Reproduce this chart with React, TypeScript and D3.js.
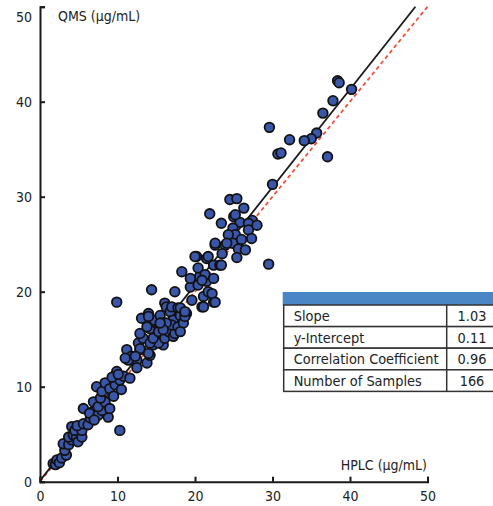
import { useEffect, useRef } from 'react';
import * as d3 from 'd3';

// HPLC (x) vs QMS (y), µg/mL
const hplc = [
  1.7, 2.0, 2.2, 2.5, 2.8, 3.4, 3.2, 3.0, 3.7, 4.1, 3.7, 4.3, 4.7, 4.9, 5.4, 4.1, 4.5, 5.4, 4.8, 5.6,
  6.2, 6.5, 5.6, 6.9, 6.4, 7.5, 7.0, 8.8, 8.6, 8.0, 6.9, 7.5, 8.4, 9.0, 7.8, 7.3, 8.0, 8.4, 9.0, 9.5,
  9.7, 10.3, 10.8, 9.9, 10.5, 11.6, 9.3, 10.1, 10.3,
  11.2, 11.8, 12.5, 11.4, 12.9, 12.7, 13.3, 13.8, 14.2, 14.8, 14.6, 15.9, 12.9, 14.2, 12.9, 12.3, 14.0,
  11.0, 15.3, 14.2, 13.1, 14.0, 14.8, 13.8, 14.6, 14.8, 14.4, 9.9, 15.5, 15.3, 15.9, 16.1, 16.6, 16.1,
  16.3, 16.8, 17.0, 17.2, 17.2, 17.4, 17.0, 17.8, 16.3, 15.9, 15.5, 14.0, 12.5,
  17.4, 17.8, 18.1, 18.9, 18.5, 18.1, 18.7, 18.1, 18.7, 18.3, 19.4, 20.4, 19.6, 21.1, 22.4, 20.9, 20.6,
  21.5, 21.7, 22.2, 22.6, 21.1, 20.2, 21.5, 22.6, 23.9, 20.4, 21.3, 20.9, 22.4, 23.2, 19.4, 21.9, 23.4,
  22.6, 23.4, 20.0, 21.7, 22.4,
  24.5, 25.4, 26.3, 25.0, 27.4, 25.8, 26.9, 24.9, 26.9, 25.2, 24.3, 27.3, 24.9, 24.1, 25.6, 26.5, 25.4,
  29.5, 30.0, 25.2, 28.0, 26.0, 23.5,
  38.4, 38.6, 40.2, 37.8, 36.5, 29.6, 35.7, 35.0, 34.1, 32.2, 30.7, 37.1, 31.1,
];
const qms = [
  1.9, 1.8, 2.3, 2.0, 2.5, 2.8, 3.3, 4.0, 3.9, 4.4, 4.7, 4.9, 4.7, 4.2, 4.7, 5.8, 5.4, 5.4, 5.9, 6.1,
  6.0, 6.7, 7.7, 7.4, 7.2, 7.0, 6.5, 6.8, 7.7, 7.5, 8.4, 7.9, 8.4, 7.7, 8.8, 10.0, 9.5, 10.4, 9.8, 9.0,
  10.2, 10.7, 11.1, 11.6, 9.7, 10.9, 11.0, 11.3, 5.4,
  13.9, 13.2, 12.8, 12.8, 13.9, 14.6, 15.1, 12.5, 13.3, 15.3, 14.4, 14.4, 15.6, 16.1, 14.0, 13.2, 13.5,
  13.0, 14.6, 14.6, 17.2, 17.7, 16.8, 16.3, 15.1, 17.0, 20.2, 18.9, 17.5, 15.8, 16.7, 15.1, 15.8, 18.8,
  18.4, 17.9, 18.4, 17.0, 15.3, 15.6, 16.5, 16.3, 16.7, 16.0, 16.7, 17.4, 12.0,
  20.0, 18.3, 17.5, 17.7, 16.7, 15.8, 17.4, 18.3, 17.9, 22.1, 20.5, 20.7, 19.1, 19.5, 18.9, 18.4, 21.6,
  21.1, 20.0, 19.8, 18.9, 18.4, 23.7, 23.5, 24.9, 24.9, 22.5, 21.8, 21.2, 22.8, 22.8, 21.4, 28.2, 27.2,
  25.1, 22.8, 23.7, 23.7, 21.4,
  29.7, 29.8, 28.8, 27.9, 27.5, 27.3, 27.2, 26.7, 26.5, 26.0, 26.0, 25.6, 25.1, 25.1, 24.5, 24.4, 23.6,
  22.9, 31.3, 28.1, 27.0, 25.5, 24.0,
  42.2, 42.0, 41.3, 40.1, 38.8, 37.3, 36.7, 36.1, 35.9, 36.0, 34.5, 34.2, 34.6,
];

const ticks = [0, 10, 20, 30, 40, 50];
const fit = { slope: 1.03, intercept: 0.11 };
const statLabels = ['Slope', 'y-Intercept', 'Correlation Coefficient', 'Number of Samples'];
const statValues = ['1.03', '0.11', '0.96', '166'];

const W = 493;
const H = 506;
const FONT = "'DejaVu Sans Condensed', 'DejaVu Sans', sans-serif";

export default function App() {
  const svgRef = useRef<SVGSVGElement>(null);

  useEffect(() => {
    if (!svgRef.current) return;
    const svg = d3.select(svgRef.current);
    svg.selectAll('*').remove();

    const x = d3.scaleLinear().domain([0, 50]).range([40, 427.5]);
    const y = d3.scaleLinear().domain([0, 50]).range([481.7, 6.7]);

    // reference lines: y = x (red dashed) and regression (black)
    svg
      .append('line')
      .attr('x1', x(0))
      .attr('y1', y(0))
      .attr('x2', x(50))
      .attr('y2', y(50))
      .attr('stroke', '#f0503c')
      .attr('stroke-width', 1.8)
      .attr('stroke-dasharray', '4,3');

    const xEnd = (50 - fit.intercept) / fit.slope;
    svg
      .append('line')
      .attr('x1', x(0))
      .attr('y1', y(fit.intercept))
      .attr('x2', x(xEnd))
      .attr('y2', y(50))
      .attr('stroke', '#1a1a1a')
      .attr('stroke-width', 1.8);

    // points
    svg
      .append('g')
      .selectAll('circle')
      .data(d3.range(hplc.length))
      .join('circle')
      .attr('cx', (i) => x(hplc[i]))
      .attr('cy', (i) => y(qms[i]))
      .attr('r', 4.8)
      .attr('fill', '#3a56a8')
      .attr('stroke', '#111')
      .attr('stroke-width', 1.8);

    // axes
    const yAxis = svg
      .append('g')
      .attr('transform', `translate(${x(0)},0)`)
      .call(d3.axisLeft(y).tickValues(ticks).tickSize(-5).tickPadding(8));
    const xAxis = svg
      .append('g')
      .attr('transform', `translate(0,${y(0)})`)
      .call(d3.axisBottom(x).tickValues(ticks).tickSize(-5).tickPadding(9));

    [xAxis, yAxis].forEach((g) => {
      g.attr('font-family', FONT).attr('font-size', 14);
      g.selectAll('path, line').attr('stroke', '#1a1a1a').attr('stroke-width', 2);
      g.selectAll('text').attr('fill', '#222');
    });
    yAxis
      .selectAll<SVGTextElement, number>('text')
      .filter((d) => d === 50)
      .attr('dy', '1.05em');

    // axis titles
    svg
      .append('text')
      .attr('x', 58)
      .attr('y', 21)
      .attr('font-family', FONT)
      .attr('font-size', 14)
      .attr('fill', '#222')
      .text('QMS (µg/mL)');
    svg
      .append('text')
      .attr('x', 427)
      .attr('y', 470)
      .attr('text-anchor', 'end')
      .attr('font-family', FONT)
      .attr('font-size', 14)
      .attr('fill', '#222')
      .text('HPLC (µg/mL)');

    // stats table
    const tLeft = 283.7;
    const tDiv = 446.7;
    const tRight = 500;
    const headTop = 292;
    const headH = 13;
    const rowH = 21.6;
    const table = svg.append('g');
    table
      .append('rect')
      .attr('x', tLeft - 1)
      .attr('y', headTop)
      .attr('width', tRight - tLeft + 1)
      .attr('height', headH)
      .attr('fill', '#4a86c5');
    const rowY = d3.scaleLinear().domain([0, 1]).range([headTop + headH, headTop + headH + rowH]);
    const rows = table
      .selectAll('g.row')
      .data(statLabels)
      .join('g')
      .attr('class', 'row');
    rows
      .append('rect')
      .attr('x', tLeft)
      .attr('y', (_, i) => rowY(i))
      .attr('width', tRight - tLeft)
      .attr('height', rowH)
      .attr('fill', '#fff')
      .attr('stroke', '#333')
      .attr('stroke-width', 1.5);
    rows
      .append('line')
      .attr('x1', tDiv)
      .attr('x2', tDiv)
      .attr('y1', (_, i) => rowY(i))
      .attr('y2', (_, i) => rowY(i + 1))
      .attr('stroke', '#333')
      .attr('stroke-width', 1.5);
    rows
      .append('text')
      .attr('x', tLeft + 10)
      .attr('y', (_, i) => rowY(i + 0.5))
      .attr('dy', '0.36em')
      .attr('font-family', FONT)
      .attr('font-size', 14.4)
      .attr('fill', '#222')
      .text((d) => d);
    rows
      .append('text')
      .attr('x', 472)
      .attr('y', (_, i) => rowY(i + 0.5))
      .attr('dy', '0.36em')
      .attr('text-anchor', 'middle')
      .attr('font-family', FONT)
      .attr('font-size', 14.4)
      .attr('fill', '#222')
      .text((_, i) => statValues[i]);
  }, []);

  return (
    <svg
      ref={svgRef}
      width={W}
      height={H}
      style={{ position: 'absolute', left: 0, top: 0, background: '#fff' }}
    />
  );
}
